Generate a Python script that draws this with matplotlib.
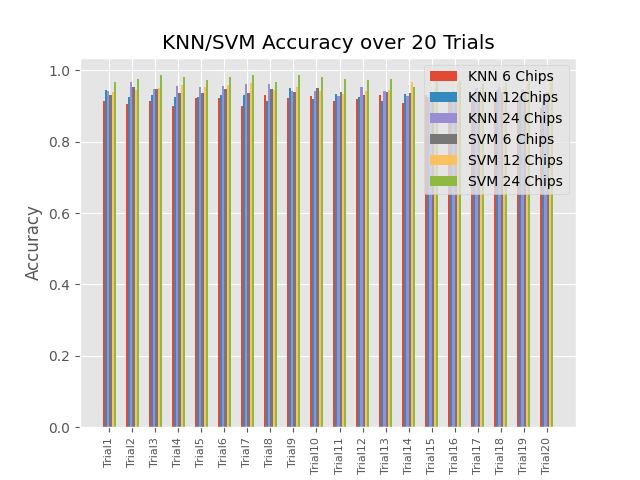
import matplotlib
matplotlib.use('Agg')
import matplotlib.pyplot as plt
import numpy as np

plt.style.use('ggplot')

trials = ['Trial%d' % i for i in range(1, 21)]

knn_6 = [0.915, 0.904, 0.913, 0.901, 0.921, 0.921, 0.901, 0.930, 0.921, 0.927,
         0.915, 0.918, 0.930, 0.907, 0.930, 0.915, 0.913, 0.921, 0.918, 0.893]
knn_12 = [0.944, 0.924, 0.930, 0.924, 0.924, 0.930, 0.930, 0.915, 0.949, 0.918,
          0.932, 0.924, 0.915, 0.932, 0.924, 0.930, 0.935, 0.944, 0.927, 0.913]
knn_24 = [0.941, 0.966, 0.946, 0.955, 0.952, 0.955, 0.961, 0.961, 0.941, 0.941,
          0.927, 0.952, 0.941, 0.927, 0.938, 0.941, 0.949, 0.952, 0.946, 0.935]
svm_6 = [0.930, 0.952, 0.946, 0.935, 0.935, 0.946, 0.935, 0.946, 0.938, 0.949,
         0.938, 0.930, 0.938, 0.935, 0.935, 0.935, 0.941, 0.938, 0.941, 0.938]
svm_12 = [0.938, 0.944, 0.949, 0.958, 0.952, 0.958, 0.963, 0.944, 0.952, 0.941,
          0.932, 0.941, 0.944, 0.966, 0.949, 0.963, 0.952, 0.955, 0.958, 0.972]
svm_24 = [0.966, 0.975, 0.986, 0.980, 0.972, 0.980, 0.986, 0.966, 0.986, 0.980,
          0.975, 0.972, 0.975, 0.952, 0.975, 0.969, 0.963, 0.963, 0.969, 0.977]

series = [knn_6, knn_12, knn_24, svm_6, svm_12, svm_24]
labels = ['KNN 6 Chips', 'KNN 12Chips', 'KNN 24 Chips',
          'SVM 6 Chips', 'SVM 12 Chips', 'SVM 24 Chips']

fig, ax = plt.subplots(figsize=(6.4, 4.8), dpi=100)
x = np.arange(len(trials))
width = 0.1
for i, (vals, lab) in enumerate(zip(series, labels)):
    ax.bar(x + (i - 2.5) * width, vals, width, label=lab)

ax.set_xticks(x)
ax.set_xticklabels(trials, rotation=90, fontsize=8)
ax.set_ylabel('Accuracy')
ax.set_title('KNN/SVM Accuracy over 20 Trials')
ax.legend(loc='upper right')

plt.savefig('out.png')
